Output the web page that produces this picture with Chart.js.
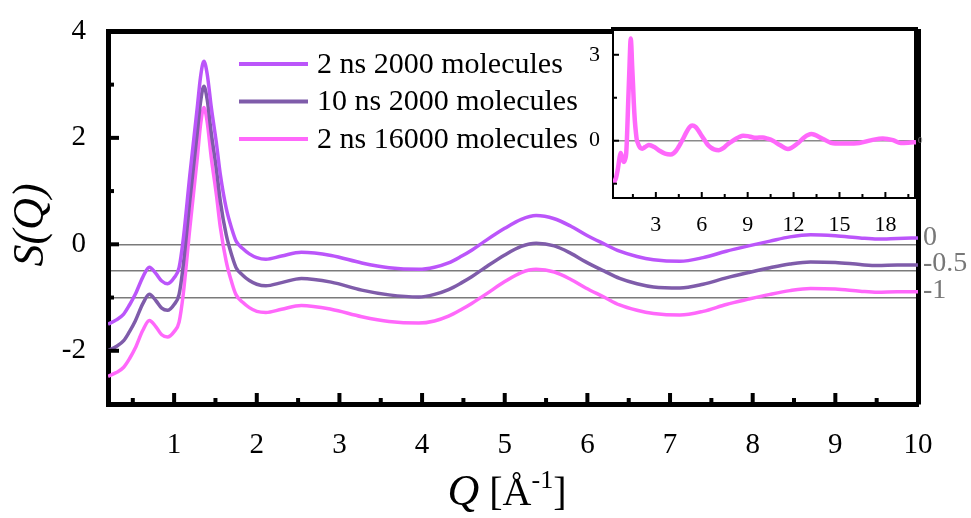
<!DOCTYPE html>
<html lang="en">
<head>
<meta charset="UTF-8" />
<title>S(Q)</title>
<style>
  html, body { margin: 0; padding: 0; background: #fff; }
  #wrap { position: relative; width: 971px; height: 518px; }
  #mainChart { position: absolute; left: 0; top: 0; }
  #insetChart { position: absolute; left: 560px; top: 0; }
</style>
<script src="https://cdn.jsdelivr.net/npm/chart.js"></script>
</head>
<body>
<div id="wrap">
  <canvas id="mainChart" width="971" height="518"></canvas>
  <canvas id="insetChart" width="411" height="240"></canvas>
</div>

<script>
  // Q grid (1/Å) used by the three main curves
  const q = [0.2, 0.3, 0.39, 0.46, 0.53, 0.62, 0.7, 0.78, 0.85, 0.92, 1.0, 1.06, 1.11, 1.19, 1.28, 1.32, 1.36, 1.4, 1.45,
    1.51, 1.56, 1.63, 1.7, 1.75, 1.83, 1.91, 2.0, 2.11, 2.3, 2.54, 2.9, 3.27, 3.6, 3.96, 4.15, 4.32, 4.48, 4.6, 4.76,
    5.0, 5.2, 5.38, 5.6, 5.8, 5.98, 6.2, 6.39, 6.6, 6.8, 7.12, 7.4, 7.68, 7.95, 8.21, 8.45, 8.7, 9.0, 9.3, 9.51, 9.75, 10.0];

  // S(Q) without the vertical shift
  const s2ns2000 = [-1.50, -1.42, -1.31, -1.14, -0.94, -0.62, -0.43, -0.55, -0.69, -0.74, -0.63, -0.44, 0.09, 1.30, 2.57, 3.15, 3.44, 3.20, 2.57,
    1.92, 1.30, 0.68, 0.28, 0.06, -0.08, -0.18, -0.25, -0.28, -0.22, -0.15, -0.21, -0.35, -0.44, -0.47, -0.43, -0.35, -0.22, -0.11, 0.06,
    0.30, 0.47, 0.54, 0.48, 0.34, 0.18, 0.01, -0.13, -0.23, -0.29, -0.32, -0.25, -0.13, -0.03, 0.06, 0.14, 0.18, 0.16, 0.12, 0.10, 0.11, 0.12];
  const s10ns2000 = [-1.50, -1.42, -1.31, -1.14, -0.94, -0.62, -0.44, -0.56, -0.70, -0.74, -0.63, -0.44, 0.10, 1.32, 2.60, 3.18, 3.47, 3.22, 2.58,
    1.93, 1.30, 0.68, 0.28, 0.06, -0.08, -0.18, -0.25, -0.28, -0.22, -0.14, -0.21, -0.36, -0.45, -0.49, -0.44, -0.35, -0.22, -0.11, 0.06,
    0.30, 0.46, 0.52, 0.47, 0.33, 0.17, 0.00, -0.14, -0.24, -0.30, -0.32, -0.25, -0.13, -0.03, 0.06, 0.13, 0.17, 0.16, 0.12, 0.10, 0.11, 0.11];
  const s2ns16000 = [-1.48, -1.41, -1.31, -1.15, -0.95, -0.62, -0.43, -0.55, -0.70, -0.74, -0.64, -0.46, 0.06, 1.30, 2.62, 3.25, 3.57, 3.30, 2.62,
    1.95, 1.31, 0.68, 0.27, 0.05, -0.09, -0.19, -0.26, -0.28, -0.22, -0.15, -0.22, -0.36, -0.45, -0.48, -0.44, -0.35, -0.22, -0.11, 0.05,
    0.30, 0.47, 0.53, 0.48, 0.34, 0.18, 0.01, -0.14, -0.24, -0.30, -0.33, -0.26, -0.13, -0.03, 0.06, 0.13, 0.17, 0.16, 0.12, 0.10, 0.11, 0.11];

  const seriesLabels = ["2 ns 2000 molecules", "10 ns 2000 molecules", "2 ns 16000 molecules"];
  const seriesShift = [0, -0.5, -1];
  const seriesColors = ["#bb55fa", "#7f5caa", "#ff68fb"];

  // inset: the 16000-molecule curve continued out to 20 1/Å
  const qTail = [10.3, 10.65, 11.1, 11.63, 12.3, 12.7, 13.16, 13.9, 14.57, 15.4, 16.3, 17.1, 17.83, 18.5, 19.0, 19.5, 20.0];
  const s2ns16000Tail = [0.07, 0.0, -0.15, -0.29, -0.08, 0.12, 0.23, 0.07, -0.09, -0.10, -0.08, 0.02, 0.08, 0.02, -0.08, -0.07, -0.05];

  // ticks
  const xMajor = [1, 2, 3, 4, 5, 6, 7, 8, 9, 10];
  const xMinor = [0.5, 1.5, 2.5, 3.5, 4.5, 5.5, 6.5, 7.5, 8.5, 9.5];
  const yMajor = [-2, 0, 2, 4];
  const yMinor = [-3, -1, 1, 3];
  const shiftTicks = [0, -0.5, -1];
  const insetXMajor = [3, 6, 9, 12, 15, 18];
  const insetXMinor = [1.5, 4.5, 7.5, 10.5, 13.5, 16.5, 19.5];
  const insetYMajor = [0, 3];
  const insetYMinor = [-1.5, 1.5];

  const SERIF = "'Liberation Serif', 'Times New Roman', serif";

  function setTicks(list) {
    return function (scale) {
      scale.ticks = list.slice().sort((a, b) => a - b).map((v) => ({ value: v }));
    };
  }

  // tick marks drawn inward from the frame
  const inTicks = {
    id: "inTicks",
    afterDraw(chart, args, opts) {
      const ctx = chart.ctx;
      const a = chart.chartArea;
      ctx.save();
      ctx.strokeStyle = "#000";
      ctx.lineWidth = opts.width;
      (opts.axes || []).forEach((ax) => {
        const sc = chart.scales[ax.id];
        const draw = (vals, len) => vals.forEach((v) => {
          const p = sc.getPixelForValue(v);
          ctx.beginPath();
          if (sc.isHorizontal()) {
            ctx.moveTo(p, a.bottom);
            ctx.lineTo(p, a.bottom - len);
          } else {
            ctx.moveTo(a.left, p);
            ctx.lineTo(a.left + len, p);
          }
          ctx.stroke();
        });
        draw(ax.major, opts.major);
        draw(ax.minor, opts.minor);
      });
      ctx.restore();
    },
  };

  const insetBg = {
    id: "insetBg",
    beforeDraw(chart) {
      const a = chart.chartArea;
      chart.ctx.save();
      chart.ctx.fillStyle = "#fff";
      chart.ctx.fillRect(a.left, a.top, a.right - a.left, a.bottom - a.top);
      chart.ctx.restore();
    },
  };

  // legend + axis titles of the main plot
  const decor = {
    id: "decor",
    afterDraw(chart) {
      const ctx = chart.ctx;
      ctx.save();
      // legend
      ctx.font = "30px " + SERIF;
      ctx.textBaseline = "middle";
      ctx.textAlign = "left";
      chart.data.datasets.forEach((ds, i) => {
        const y = 64 + i * 37.5;
        ctx.strokeStyle = ds.borderColor;
        ctx.lineWidth = 4;
        ctx.beginPath();
        ctx.moveTo(239, y);
        ctx.lineTo(308, y);
        ctx.stroke();
        ctx.fillStyle = "#000";
        ctx.fillText(ds.label, 317, y + 1);
      });

      // y title
      ctx.save();
      ctx.translate(31, 225);
      ctx.rotate(-Math.PI / 2);
      ctx.textAlign = "center";
      ctx.textBaseline = "middle";
      ctx.font = "italic 44px " + SERIF;
      ctx.fillText("S(Q)", 0, 0);
      ctx.restore();

      // x title: Q [Å^-1]
      ctx.textBaseline = "alphabetic";
      ctx.textAlign = "left";
      const parts = [
        { t: "Q", f: "italic 44px " + SERIF, dy: 0 },
        { t: " [Å", f: "40px " + SERIF, dy: 0 },
        { t: "-1", f: "26px " + SERIF, dy: -17 },
        { t: "]", f: "40px " + SERIF, dy: 0 },
      ];
      let w = 0;
      parts.forEach((p) => { ctx.font = p.f; p.w = ctx.measureText(p.t).width; w += p.w; });
      let x = 507 - w / 2;
      parts.forEach((p) => {
        ctx.font = p.f;
        ctx.fillText(p.t, x, 505 + p.dy);
        x += p.w;
      });
      ctx.restore();
    },
  };

  const datasets = seriesLabels.map((label, i) => {
    const vals = [s2ns2000, s10ns2000, s2ns16000][i];
    return {
      label: label,
      data: q.map((x, k) => ({ x: x, y: vals[k] + seriesShift[i] })),
      borderColor: seriesColors[i],
      borderWidth: 3.5,
      pointRadius: 0,
      cubicInterpolationMode: "monotone",
      fill: false,
    };
  });

  const frame = { display: true, color: "#000", width: 5 };

  new Chart(document.getElementById("mainChart"), {
    type: "line",
    data: { datasets: datasets },
    plugins: [inTicks, decor],
    options: {
      responsive: false,
      animation: false,
      devicePixelRatio: 1,
      layout: { padding: 0 },
      plugins: {
        legend: { display: false },
        tooltip: { enabled: false },
        inTicks: {
          width: 4, major: 11, minor: 6,
          axes: [
            { id: "x", major: xMajor, minor: xMinor },
            { id: "y", major: yMajor, minor: yMinor },
          ],
        },
      },
      scales: {
        x: {
          type: "linear", position: "bottom", min: 0.2, max: 10,
          afterBuildTicks: setTicks(xMajor.concat(xMinor)),
          afterFit: (s) => { s.height = 114; },
          grid: { display: false },
          border: frame,
          ticks: {
            padding: 16, color: "#000", font: { family: SERIF, size: 29 },
            maxRotation: 0, autoSkip: false,
            callback: (v) => (xMajor.includes(v) ? String(v) : ""),
          },
        },
        xTop: {
          type: "linear", position: "top", min: 0.2, max: 10,
          afterFit: (s) => { s.height = 28; },
          grid: { display: false }, border: frame, ticks: { display: false },
        },
        y: {
          type: "linear", position: "left", min: -3, max: 4,
          afterBuildTicks: setTicks(yMajor.concat(yMinor)),
          afterFit: (s) => { s.width = 108; },
          grid: { display: false },
          border: frame,
          ticks: {
            padding: 14, color: "#000", font: { family: SERIF, size: 29 },
            autoSkip: false,
            callback: (v) => (yMajor.includes(v) ? String(v) : ""),
          },
        },
        yRight: {
          type: "linear", position: "right", min: -3, max: 4,
          afterBuildTicks: setTicks(shiftTicks),
          afterFit: (s) => { s.width = 53; },
          grid: { display: true, drawOnChartArea: true, drawTicks: false, color: "#7a7a7a", lineWidth: 1.5 },
          border: frame,
          ticks: {
            padding: 5, color: "#777", labelOffset: -7, font: { family: SERIF, size: 28 },
            autoSkip: false,
            callback: (v) => String(v),
          },
        },
      },
    },
  });

  // inset
  const qInset = q.concat(qTail);
  const sInset = s2ns16000.concat(s2ns16000Tail);
  const thinFrame = { display: true, color: "#000", width: 2 };
  const thickFrame = { display: true, color: "#000", width: 4 };

  new Chart(document.getElementById("insetChart"), {
    type: "line",
    data: {
      datasets: [{
        label: seriesLabels[2],
        data: qInset.map((x, k) => ({ x: x, y: sInset[k] })),
        borderColor: seriesColors[2],
        borderWidth: 4.5,
        pointRadius: 0,
        cubicInterpolationMode: "monotone",
      }],
    },
    plugins: [insetBg, inTicks],
    options: {
      responsive: false,
      animation: false,
      devicePixelRatio: 1,
      layout: { padding: 0 },
      plugins: {
        legend: { display: false },
        tooltip: { enabled: false },
        inTicks: {
          width: 2, major: 6, minor: 4,
          axes: [
            { id: "x", major: insetXMajor, minor: insetXMinor },
            { id: "y", major: insetYMajor, minor: insetYMinor },
          ],
        },
      },
      scales: {
        x: {
          type: "linear", position: "bottom", min: 0.2, max: 20,
          afterBuildTicks: setTicks(insetXMajor),
          afterFit: (s) => { s.height = 42; },
          grid: { display: false }, border: thinFrame,
          ticks: { padding: 6, color: "#000", font: { family: SERIF, size: 22 }, maxRotation: 0, autoSkip: false },
        },
        xTop: {
          type: "linear", position: "top", min: 0.2, max: 20,
          afterFit: (s) => { s.height = 29; },
          grid: { display: false }, border: thickFrame, ticks: { display: false },
        },
        y: {
          type: "linear", position: "left", min: -2, max: 3.9,
          afterBuildTicks: setTicks(insetYMajor),
          afterFit: (s) => { s.width = 53; },
          grid: { display: false }, border: thinFrame,
          ticks: { padding: 5, color: "#000", font: { family: SERIF, size: 22 }, autoSkip: false },
        },
        yRight: {
          type: "linear", position: "right", min: -2, max: 3.9,
          afterBuildTicks: setTicks([0]),
          afterFit: (s) => { s.width = 55; },
          grid: { display: true, drawOnChartArea: true, drawTicks: false, color: "#8a8a8a", lineWidth: 1.5 },
          border: thickFrame,
          ticks: { padding: 2, color: "#888", font: { family: SERIF, size: 9 }, autoSkip: false },
        },
      },
    },
  });
</script>
</body>
</html>
